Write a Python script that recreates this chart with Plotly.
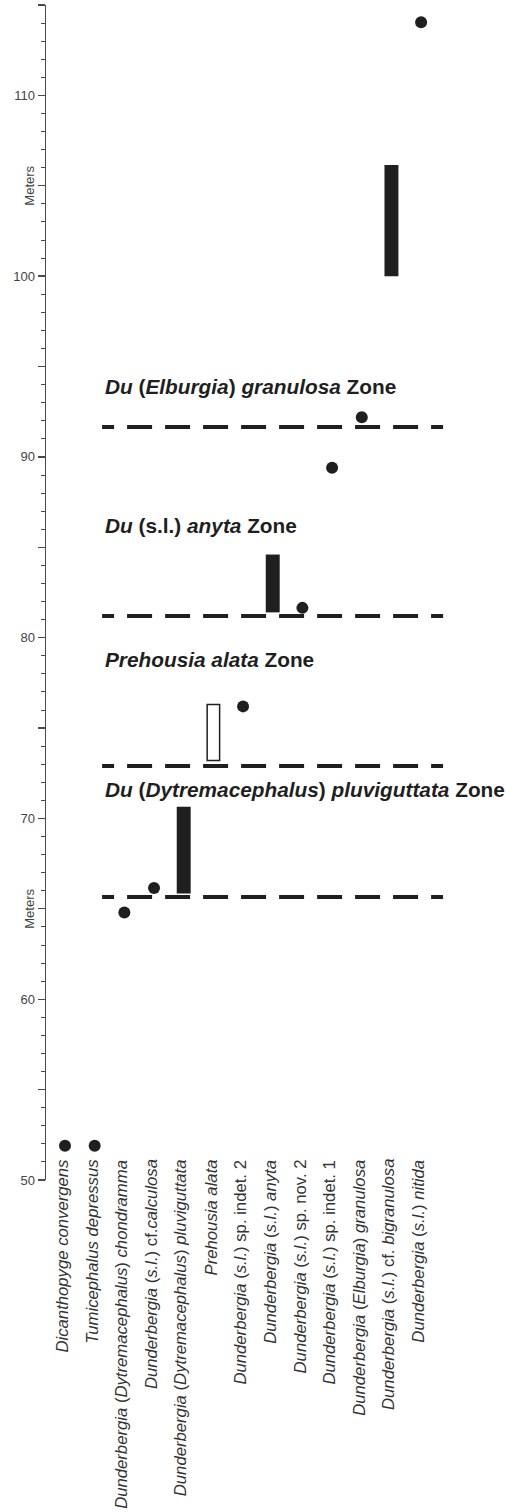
import plotly.graph_objects as go

# ---------------- data ----------------
taxa = [
    "<i>Dicanthopyge convergens</i>",
    "<i>Tumicephalus depressus</i>",
    "<i>Dunderbergia</i> (<i>Dytremacephalus</i>) <i>chondramma</i>",
    "<i>Dunderbergia</i> (<i>s.l.</i>) cf.<i>calculosa</i>",
    "<i>Dunderbergia</i> (<i>Dytremacephalus</i>) <i>pluviguttata</i>",
    "<i>Prehousia alata</i>",
    "<i>Dunderbergia</i> (<i>s.l.</i>) sp. indet. 2",
    "<i>Dunderbergia</i> (<i>s.l.</i>) <i>anyta</i>",
    "<i>Dunderbergia</i> (<i>s.l.</i>) sp. nov. 2",
    "<i>Dunderbergia</i> (<i>s.l.</i>) sp. indet. 1",
    "<i>Dunderbergia</i> (<i>Elburgia</i>) <i>granulosa</i>",
    "<i>Dunderbergia</i> (<i>s.l.</i>) cf. <i>bigranulosa</i>",
    "<i>Dunderbergia</i> (<i>s.l.</i>) <i>nitida</i>",
]

# single occurrences (taxon index, meters)
point_taxa = [0, 1, 2, 3, 6, 8, 9, 10, 12]
point_m = [51.9, 51.9, 64.8, 66.15, 76.2, 81.65, 89.4, 92.2, 114.05]

# filled ranges (taxon index, low, high)
range_taxa = [4, 7, 11]
range_low = [65.85, 81.4, 100.0]
range_high = [70.65, 84.6, 106.15]

# open range (uncertain)
open_taxa = [5]
open_low = [73.2]
open_high = [76.3]

# biozones: boundary level and label
zone_names = [
    "<b><i>Du</i> (<i>Dytremacephalus</i>) <i>pluviguttata</i> Zone</b>",
    "<b><i>Prehousia alata</i> Zone</b>",
    "<b><i>Du</i> (s.l.) <i>anyta</i> Zone</b>",
    "<b><i>Du</i> (<i>Elburgia</i>) <i>granulosa</i> Zone</b>",
]
zone_base = [65.65, 72.9, 81.2, 91.65]
zone_label_m = [71.6, 78.8, 86.2, 93.9]

y_ticks = [50, 60, 70, 80, 90, 100, 110]
y_mid_ticks = [55, 65, 75, 85, 95, 105, 115]
axis_title_m = [65, 105]

# ---------------- figure ----------------
FONT = "Liberation Sans, Arial, Helvetica, sans-serif"
INK = "#1f1f1f"
AX = "#4a4a4a"

fig = go.Figure()

fig.add_trace(go.Bar(
    x=range_taxa,
    y=[h - l for l, h in zip(range_low, range_high)],
    base=range_low,
    width=0.47,
    marker=dict(color=INK, line=dict(width=0)),
    hoverinfo="skip",
))
fig.add_trace(go.Bar(
    x=open_taxa,
    y=[h - l for l, h in zip(open_low, open_high)],
    base=open_low,
    width=0.42,
    marker=dict(color="white", line=dict(color=INK, width=1.5)),
    hoverinfo="skip",
))
fig.add_trace(go.Scatter(
    x=point_taxa, y=point_m, mode="markers",
    marker=dict(size=12, color=INK), cliponaxis=False,
    hoverinfo="skip",
))

dash = "12px,13px," + "25px,13px," * 8 + "13px,200px"
for zb in zone_base:
    fig.add_shape(type="line", xref="x", yref="y",
                  x0=1.25, x1=12.74, y0=zb, y1=zb,
                  line=dict(color=INK, width=4, dash=dash), layer="below")

for name, ym in zip(zone_names, zone_label_m):
    fig.add_annotation(x=1.28, y=ym, xref="x", yref="y", text=name,
                       showarrow=False, xanchor="left", yanchor="middle",
                       font=dict(family=FONT, size=20.8, color=INK))

for i, t in enumerate(taxa):
    fig.add_annotation(x=i - 0.08, y=51.25, xref="x", yref="y", text=t,
                       showarrow=False, textangle=-90,
                       xanchor="center", yanchor="top",
                       font=dict(family=FONT, size=16.7, color="#333333"))

for ym in axis_title_m:
    fig.add_annotation(x=-0.035, y=ym, xref="paper", yref="y", text="Meters",
                       showarrow=False, textangle=-90,
                       xanchor="center", yanchor="middle",
                       font=dict(family=FONT, size=13, color="#444444"))

fig.update_layout(
    width=506, height=1512,
    margin=dict(l=46, r=0, t=5, b=332),
    paper_bgcolor="white", plot_bgcolor="white",
    showlegend=False, barmode="overlay", hovermode=False,
    xaxis=dict(range=[-0.64, 14.86], visible=False, fixedrange=True),
    yaxis=dict(
        range=[50, 115], tickvals=y_ticks, ticks="outside", ticklen=7,
        tickwidth=1.3, tickcolor=AX, showline=True, linecolor=AX,
        linewidth=1.5, showgrid=False, zeroline=False, automargin=False,
        fixedrange=True,
        tickfont=dict(family=FONT, size=13, color="#444444"),
        minor=dict(dtick=1, tick0=50, ticks="outside", ticklen=3.5,
                   tickwidth=1, tickcolor=AX, showgrid=False),
    ),
    yaxis2=dict(
        range=[50, 115], overlaying="y", side="left", anchor="x",
        tickvals=y_mid_ticks, ticks="outside", ticklen=7, tickwidth=1.3,
        tickcolor=AX, showticklabels=False, showline=False,
        showgrid=False, zeroline=False, automargin=False, fixedrange=True,
    ),
)
# invisible trace to activate yaxis2
fig.add_trace(go.Scatter(x=[0], y=[50], yaxis="y2", mode="markers",
                         marker=dict(opacity=0), hoverinfo="skip"))

fig.write_html("out.html",
               config={"displayModeBar": False, "staticPlot": True},
               post_script="document.body.style.margin='0';document.body.style.overflow='hidden';")
